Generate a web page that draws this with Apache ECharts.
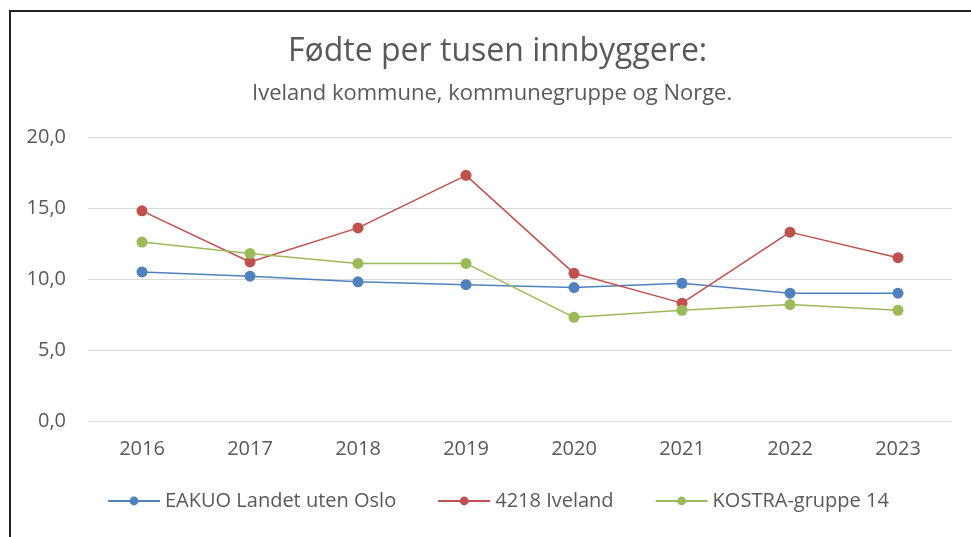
<!DOCTYPE html>
<html>
<head>
<meta charset="utf-8">
<script src="https://cdn.jsdelivr.net/npm/echarts@6/dist/echarts.min.js"></script>
<style>
  html, body { margin: 0; padding: 0; background: #fff; }
  #main { width: 971px; height: 537px; }
</style>
</head>
<body>
<div id="main"></div>
<script>
// years along the x axis
var years = ['2016', '2017', '2018', '2019', '2020', '2021', '2022', '2023'];
// values
var landetUtenOslo = [10.5, 10.2, 9.8, 9.6, 9.4, 9.7, 9.0, 9.0];
var iveland = [14.8, 11.2, 13.6, 17.3, 10.4, 8.3, 13.3, 11.5];
var kostra14 = [12.6, 11.8, 11.1, 11.1, 7.3, 7.8, 8.2, 7.8];

var fontName = "'Open Sans', sans-serif";
var textCol = '#595959';

var chart = echarts.init(document.getElementById('main'));

function line(name, data, color) {
  return {
    name: name,
    type: 'line',
    data: data,
    symbol: 'circle',
    symbolSize: 11,
    itemStyle: { color: color },
    lineStyle: { color: color, width: 1.5 }
  };
}

var option = {
  backgroundColor: '#fff',
  animation: false,
  title: [
    {
      text: 'Fødte per tusen innbyggere:',
      left: 283,
      top: 31,
      textStyle: { fontFamily: fontName, fontSize: 32, fontWeight: 'normal', color: textCol }
    },
    {
      text: 'Iveland kommune, kommunegruppe og Norge.',
      left: 247,
      top: 78,
      textStyle: { fontFamily: fontName, fontSize: 22, fontWeight: 'normal', color: textCol }
    }
  ],
  legend: {
    bottom: 21,
    left: 102,
    itemWidth: 52,
    itemHeight: 11,
    itemGap: 41,
    textStyle: { fontFamily: fontName, fontSize: 20, color: textCol },
    data: ['EAKUO Landet uten Oslo', '4218 Iveland', 'KOSTRA-gruppe 14']
  },
  grid: { left: 88, right: 19, top: 137, bottom: 116 },
  xAxis: {
    type: 'category',
    data: years,
    axisLine: { show: false },
    axisTick: { show: false },
    axisLabel: { fontFamily: fontName, fontSize: 20, color: textCol, margin: 18 }
  },
  yAxis: {
    type: 'value',
    min: 0,
    max: 20,
    interval: 5,
    axisLabel: {
      fontFamily: fontName, fontSize: 20, color: textCol, margin: 22,
      formatter: function (v) { return v.toFixed(1).replace('.', ','); }
    },
    splitLine: { lineStyle: { color: '#d9d9d9', width: 1 } }
  },
  series: [
    line('EAKUO Landet uten Oslo', landetUtenOslo, '#4F81BD'),
    line('4218 Iveland', iveland, '#C0504D'),
    line('KOSTRA-gruppe 14', kostra14, '#9BBB59')
  ],
  graphic: [
    { type: 'line', shape: { x1: 9, y1: 11, x2: 971, y2: 11 }, style: { stroke: '#222', lineWidth: 2 } },
    { type: 'line', shape: { x1: 10, y1: 11, x2: 10, y2: 537 }, style: { stroke: '#222', lineWidth: 2 } }
  ]
};

chart.setOption(option);
</script>
</body>
</html>
